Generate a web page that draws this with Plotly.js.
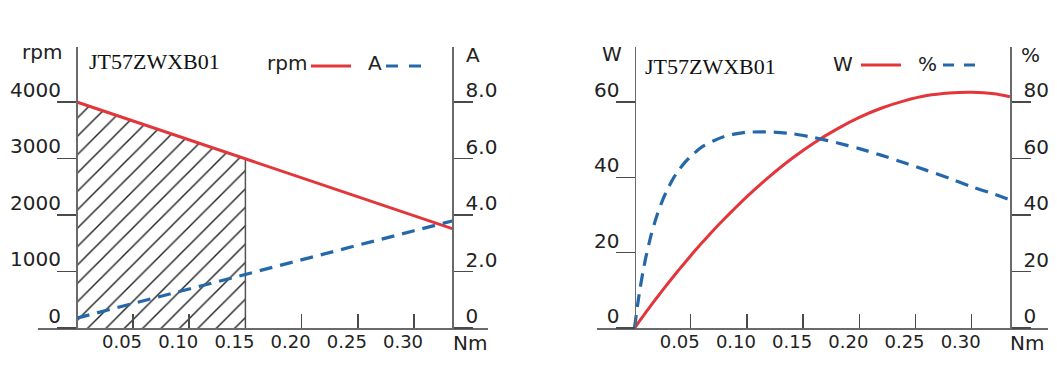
<!DOCTYPE html>
<html>
<head>
<meta charset="utf-8">
<script src="https://cdn.plot.ly/plotly-3.0.1.min.js"></script>
<style>
html,body{margin:0;padding:0;background:#ffffff;}
#chart{width:1057px;height:368px;}
</style>
</head>
<body>
<div id="chart"></div>
<script>
// ---------------- data ----------------
var modelName = "JT57ZWXB01";

// left chart: speed / current vs torque
var torqueL = [0, 0.05, 0.10, 0.15, 0.20, 0.25, 0.30, 0.334];
var speedRpm = [4000, 3665, 3330, 3000, 2665, 2330, 2000, 1760];
var currentA = [0.35, 0.87, 1.38, 1.90, 2.41, 2.93, 3.44, 3.79];

// hatched rated-operation area
var hatchTorque = [0, 0.15, 0.15];
var hatchSpeed = [4000, 3000, 0];

// right chart: output power / efficiency vs torque
var torqueR = [0, 0.0025, 0.005, 0.0075, 0.01, 0.015, 0.02, 0.025, 0.03, 0.035, 0.04, 0.045, 0.05,
               0.06, 0.07, 0.08, 0.09, 0.10, 0.12, 0.14, 0.16, 0.18, 0.20, 0.22, 0.24, 0.26,
               0.28, 0.30, 0.32, 0.334];
var powerW = [0, 1.04, 2.08, 3.10, 4.12, 6.13, 8.10, 10.04, 11.94, 13.8, 15.64, 17.4, 19.2,
              22.6, 25.9, 29.0, 32.0, 34.9, 40.2, 45.0, 49.2, 52.8, 55.9, 58.4, 60.3, 61.7,
              62.4, 62.6, 62.2, 61.4];
var efficiencyPct = [0, 7.6, 14.2, 19.9, 24.9, 33.3, 39.9, 45.3, 49.6, 53.3, 56.2, 58.7, 60.8,
                     64.1, 66.2, 67.8, 68.7, 69.3, 69.4, 68.8, 67.4, 65.6, 63.5, 61.1, 58.5, 55.8,
                     53.0, 50.0, 47.4, 45.4];

// tick values / labels
var torqueTicks = [0.05, 0.10, 0.15, 0.20, 0.25, 0.30];
var torqueTickText = ["0.05", "0.10", "0.15", "0.20", "0.25", "0.30"];
var rpmTicks = [0, 1000, 2000, 3000, 4000];
var rpmTickText = ["0", "1000", "2000", "3000", "4000"];
var ampTicks = [0, 2, 4, 6, 8];
var ampTickText = ["0", "2.0", "4.0", "6.0", "8.0"];
var wattTicks = [0, 20, 40, 60];
var wattTickText = ["0", "20", "40", "60"];
var pctTicks = [0, 20, 40, 60, 80];
var pctTickText = ["0", "20", "40", "60", "80"];

// ---------------- styling ----------------
var W = 1057, H = 368;
function fx(px){ return px / W; }
function fy(py){ return 1 - py / H; }

var RED = "#e3363a";
var BLUE = "#2468aa";
var AXIS = "#6a6a6a";
var TICKC = "#4a4a4a";
var TXT = "#222222";
var SANS = "DejaVu Sans, Arial, sans-serif";
var SERIF = "Liberation Serif, Times New Roman, serif";

var yDom = [fy(328), fy(47)];

var traces = [
  {x: hatchTorque, y: hatchSpeed, xaxis: "x", yaxis: "y", type: "scatter", mode: "lines",
   fill: "tozeroy", fillcolor: "rgba(0,0,0,0)",
   fillpattern: {shape: "/", size: 13, solidity: 0.11, fgcolor: "#222222", bgcolor: "rgba(255,255,255,0)"},
   line: {color: "#555555", width: 1.5}, hoverinfo: "skip"},
  {x: torqueL, y: currentA, xaxis: "x", yaxis: "y2", type: "scatter", mode: "lines",
   line: {color: BLUE, width: 3.2, dash: "13px,8px"}},
  {x: torqueL, y: speedRpm, xaxis: "x", yaxis: "y", type: "scatter", mode: "lines",
   line: {color: RED, width: 3}},
  {x: torqueR, y: efficiencyPct, xaxis: "x2", yaxis: "y4", type: "scatter", mode: "lines",
   line: {color: BLUE, width: 3.2, dash: "13px,8px", shape: "spline", smoothing: 0.6}},
  {x: torqueR, y: powerW, xaxis: "x2", yaxis: "y3", type: "scatter", mode: "lines",
   line: {color: RED, width: 3, shape: "spline", smoothing: 0.6}}
];

function xAxis(dom, range, anchor){
  return {
    domain: dom, range: range, anchor: anchor, fixedrange: true,
    showline: true, linecolor: AXIS, linewidth: 1.6,
    showgrid: false, zeroline: false,
    tickmode: "array", tickvals: torqueTicks, ticktext: torqueTickText,
    ticks: "inside", ticklen: 14, tickwidth: 1.5, tickcolor: TICKC,
    ticklabelshift: -11, ticklabelstandoff: -3,
    tickfont: {family: SANS, size: 18, color: TXT}
  };
}
function yAxis(range, pos, side, vals, text, overlay){
  var a = {
    domain: yDom, range: range, anchor: "free", position: pos, side: side, fixedrange: true,
    showline: true, linecolor: AXIS, linewidth: 1.6,
    showgrid: false, zeroline: false,
    tickmode: "array", tickvals: vals, ticktext: text,
    ticks: "outside", ticklen: 19, tickwidth: 1.5, tickcolor: TICKC,
    ticklabelshift: -12, ticklabelstandoff: (side === "right" ? -11 : -8),
    tickfont: {family: SANS, size: 20, color: TXT}
  };
  if (overlay) a.overlaying = overlay;
  return a;
}

function ann(text, x, y, xanchor, font){
  return {text: text, xref: "paper", yref: "paper", x: fx(x), y: fy(y),
          xanchor: xanchor, yanchor: "middle", showarrow: false, font: font};
}
var unitFont = {family: SANS, size: 20, color: TXT};
var titleFont = {family: SERIF, size: 22, color: "#111111"};

var layout = {
  width: W, height: H,
  margin: {l: 0, r: 0, t: 0, b: 0, pad: 0},
  paper_bgcolor: "#ffffff", plot_bgcolor: "rgba(0,0,0,0)",
  showlegend: false, hovermode: false,
  xaxis: xAxis([fx(38), fx(488)], [-0.0345, 0.3658], "y"),
  xaxis2: xAxis([fx(597), fx(1048)], [-0.0334, 0.3679], "y3"),
  yaxis: yAxis([0, 4973], fx(76), "left", rpmTicks, rpmTickText),
  yaxis2: yAxis([0, 9.947], fx(452), "right", ampTicks, ampTickText, "y"),
  yaxis3: yAxis([0, 74.6], fx(634.5), "left", wattTicks, wattTickText),
  yaxis4: yAxis([0, 99.47], fx(1010), "right", pctTicks, pctTickText, "y3"),
  annotations: [
    ann(modelName, 154.5, 62, "center", titleFont),
    ann(modelName, 710.5, 67, "center", titleFont),
    ann("rpm", 64, 52, "right", unitFont),
    ann("A", 464, 55, "left", unitFont),
    ann("W", 624, 54, "right", unitFont),
    ann("%", 1019, 55, "left", unitFont),
    ann("Nm", 470, 343, "center", unitFont),
    ann("Nm", 1027, 343, "center", unitFont),
    ann("rpm", 309, 63, "right", unitFont),
    ann("A", 384, 63, "right", unitFont),
    ann("W", 855, 64, "right", unitFont),
    ann("%", 939, 64, "right", unitFont)
  ],
  shapes: [
    {type: "line", xref: "paper", yref: "paper", x0: fx(311), x1: fx(351), y0: fy(66), y1: fy(66),
     line: {color: RED, width: 3}},
    {type: "line", xref: "paper", yref: "paper", x0: fx(386), x1: fx(423), y0: fy(66), y1: fy(66),
     line: {color: BLUE, width: 3, dash: "12px,11px"}},
    {type: "line", xref: "paper", yref: "paper", x0: fx(861), x1: fx(901), y0: fy(65), y1: fy(65),
     line: {color: RED, width: 3}},
    {type: "line", xref: "paper", yref: "paper", x0: fx(943), x1: fx(979), y0: fy(65), y1: fy(65),
     line: {color: BLUE, width: 3, dash: "11px,10px"}}
  ]
};

Plotly.newPlot("chart", traces, layout, {staticPlot: true, displayModeBar: false});
</script>
</body>
</html>
